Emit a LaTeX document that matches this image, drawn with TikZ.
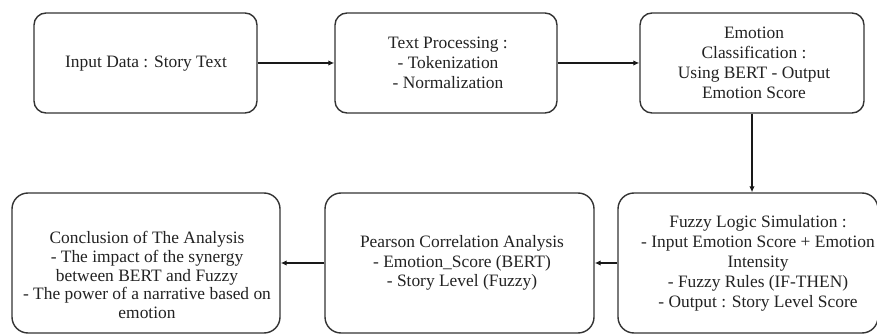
\documentclass[tikz,border=0pt]{standalone}
\usepackage{fontspec}
\setmainfont{Liberation Serif}
\usetikzlibrary{arrows.meta}
\definecolor{edge}{HTML}{333333}
\definecolor{ink}{HTML}{222222}
\tikzset{
  x=1pt, y=-1pt,
  box/.style={draw=edge, line width=1.4pt, fill=white, rectangle, rounded corners=#1, inner sep=0pt},
  box/.default=12pt,
  txt/.style={align=center, text=ink, inner sep=0pt, font=\fontsize{17.4}{#1}\selectfont},
  txt/.default=20,
  flow/.style={draw=black!90, line width=1.4pt, -{Latex[length=6pt,width=5.5pt]}}
}
\begin{document}
\begin{tikzpicture}
\useasboundingbox (0,0) rectangle (877,336);
% top row
\node[box, minimum width=223pt, minimum height=100pt] (b1) at (145.5,63) {};
\node[box, minimum width=222pt, minimum height=100pt] (b2) at (446,63) {};
\node[box, minimum width=224pt, minimum height=100pt] (b3) at (752,63) {};
% bottom row
\node[box=16pt, minimum width=268pt, minimum height=140pt] (b4) at (146,263) {};
\node[box=16pt, minimum width=269pt, minimum height=140pt] (b5) at (459.5,263) {};
\node[box=16pt, minimum width=260pt, minimum height=140pt] (b6) at (748,263) {};
% texts
\node[txt] (t1) at (146,64) {Input Data : Story Text};
\node[txt] (t2) at (448,63) {Text Processing :\\- Tokenization\\- Normalization};
\node[txt] (t3) at (754,63) {Emotion\\Classification :\\Using BERT - Output\\Emotion Score};
\node[txt=18.6] (t4) at (147,275) {Conclusion of The Analysis\\- The impact of the synergy\\between BERT and Fuzzy\\- The power of a narrative based on\\emotion};
\node[txt=19.5] (t5) at (462,263) {Pearson Correlation Analysis\\- Emotion\_Score (BERT)\\- Story Level (Fuzzy)};
\node[txt=20] (t6) at (758,263) {Fuzzy Logic Simulation :\\- Input Emotion Score + Emotion\\Intensity\\- Fuzzy Rules (IF-THEN)\\- Output : Story Level Score};
% connectors
\draw[flow] (b1.east) -- (b2.west);
\draw[flow] (b2.east) -- (b3.west);
\draw[flow] (b3.south) -- (b6.north -| b3.south);
\draw[flow] (b6.west) -- (b5.east);
\draw[flow] (b5.west) -- (b4.east);
\end{tikzpicture}
\end{document}
